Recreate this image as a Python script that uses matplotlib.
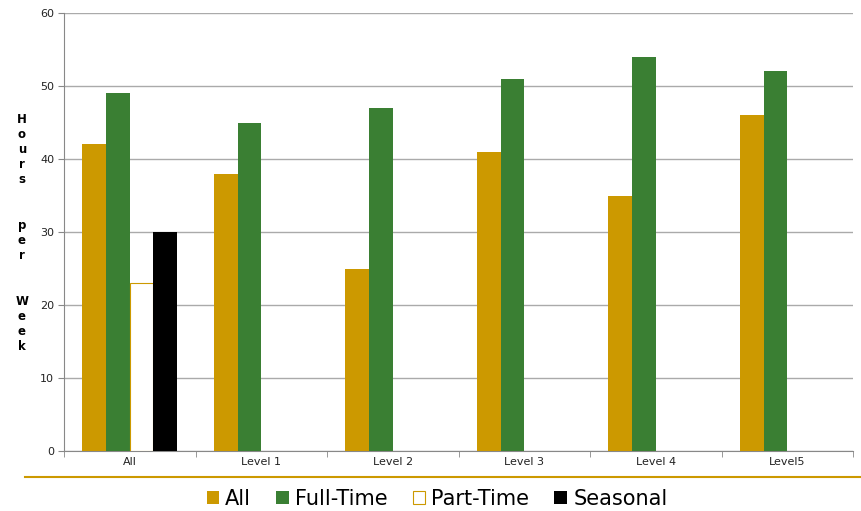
import matplotlib
matplotlib.use("Agg")
from matplotlib import pyplot as plt
from matplotlib.lines import Line2D
import numpy as np

categories = ['All', 'Level 1', 'Level 2', 'Level 3', 'Level 4', 'Level5']
all_hours = [42, 38, 25, 41, 35, 46]
full_time = [49, 45, 47, 51, 54, 52]
part_time = [23, 0, 0, 0, 0, 0]
seasonal = [30, 0, 0, 0, 0, 0]

gold = '#CC9900'
green = '#3A7F33'

fig = plt.figure(figsize=(8.61, 5.11), dpi=100)
ax = fig.add_axes([64 / 861, 1 - 451 / 511, (853 - 64) / 861, (451 - 13) / 511])

x = np.arange(len(categories))
w = 0.18
ax.bar(x - 1.5 * w, all_hours, w, color=gold, label='All', zorder=3)
ax.bar(x - 0.5 * w, full_time, w, color=green, label='Full-Time', zorder=3)
pt = [v if v else np.nan for v in part_time]
ss = [v if v else np.nan for v in seasonal]
ax.bar(x + 0.5 * w, pt, w, color='white', edgecolor=gold, linewidth=0.8,
       label='Part-Time', zorder=3)
ax.bar(x + 1.5 * w, ss, w, color='black', label='Seasonal', zorder=3)

ax.set_xlim(-0.5, len(categories) - 0.5)
ax.set_ylim(0, 60)
ax.set_yticks(range(0, 61, 10))
ax.set_xticks(x)
ax.set_xticklabels(categories, fontsize=8, color='#222222')
ax.tick_params(axis='x', length=0, pad=4)
ax.set_xticks(np.arange(-0.5, len(categories)), minor=True)
ax.tick_params(axis='x', which='minor', length=4, color='#888888')
ax.tick_params(axis='y', labelsize=8, labelcolor='#222222', length=4, color='#888888', pad=3)
ax.grid(axis='y', color='#aaaaaa', linewidth=1, zorder=0)
for side in ['top', 'right']:
    ax.spines[side].set_visible(False)
for side in ['left', 'bottom']:
    ax.spines[side].set_color('#888888')

# stacked vertical axis title, one letter per line
title_lines = '\n'.join('Hours per Week'.replace(' ', '  ')).replace('\n \n', '\n\n')
fig.text(22 / 861, 1 - 233 / 511, title_lines,
         ha='center', va='center', fontsize=8.5, fontweight='bold', linespacing=1.22)

fig.add_artist(Line2D([25 / 861, 1], [1 - 477 / 511, 1 - 477 / 511], color=gold, linewidth=1.5))

fig.legend(loc='center', bbox_to_anchor=(437 / 861, 1 - 499 / 511), ncol=4, frameon=False,
           fontsize=15, handlelength=0.6, handleheight=0.6, handletextpad=0.3,
           columnspacing=1.2)

fig.savefig('out.png', dpi=100)
